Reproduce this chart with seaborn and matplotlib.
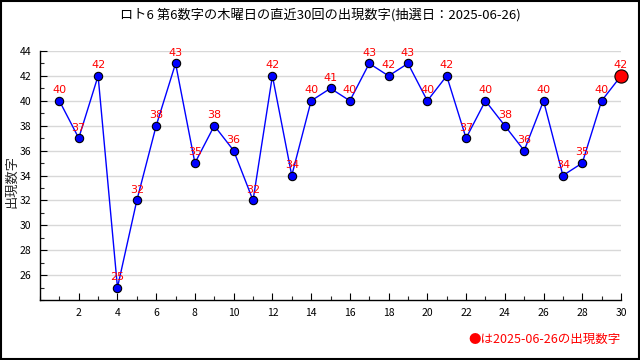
import matplotlib
matplotlib.use("Agg")
import matplotlib.pyplot as plt
import seaborn as sns
import pandas as pd
from matplotlib.ticker import MultipleLocator
from matplotlib.patches import Rectangle

draws = list(range(1, 31))
values = [40, 37, 42, 25, 32, 38, 43, 35, 38, 36, 32, 42, 34, 40, 41, 40, 43, 42, 43, 40,
          42, 37, 40, 38, 36, 40, 34, 35, 40, 42]
title = "ロト6 第6数字の木曜日の直近30回の出現数字(抽選日：2025-06-26)"
ylabel = "出現数字"
legend_text = "●は2025-06-26の出現数字"

sns.set_style("white")
plt.rcParams['font.family'] = ['Noto Sans CJK JP', 'DejaVu Sans']

df = pd.DataFrame({"draw": draws, "value": values})

fig = plt.figure(figsize=(6.4, 3.6), dpi=100)
ax = fig.add_axes([40/640, 1-300/360, (621-40)/640, (300-51)/360])

ax.set_xlim(0, 30)
ax.set_ylim(24, 44)
ax.yaxis.set_major_locator(MultipleLocator(2))
ax.yaxis.set_minor_locator(MultipleLocator(1))
ax.xaxis.set_major_locator(MultipleLocator(2))
ax.xaxis.set_minor_locator(MultipleLocator(1))
ax.grid(axis='y', which='major', color='#d8d8d8', linewidth=1)
ax.set_axisbelow(True)

sns.lineplot(data=df, x="draw", y="value", ax=ax, color='blue', linewidth=1,
             marker='o', markersize=6, markerfacecolor='blue', markeredgecolor='black',
             markeredgewidth=0.8, zorder=3, clip_on=False)
last = df.iloc[[-1]]
sns.scatterplot(data=last, x="draw", y="value", ax=ax, color='red', s=90,
                edgecolor='black', linewidth=0.8, zorder=4, clip_on=False)

for x, y in zip(draws, values):
    ax.annotate(str(y), (x, y), xytext=(0, 4), textcoords='offset points',
                ha='center', va='bottom', color='red', fontsize=8, family=['DejaVu Sans'])

for s in ['top', 'right']:
    ax.spines[s].set_visible(False)
for s in ['left', 'bottom']:
    ax.spines[s].set_color('black')
    ax.spines[s].set_linewidth(1)

ax.tick_params(axis='both', which='major', direction='in', length=5, width=0.8,
               labelsize=7.5, colors='black', left=True, bottom=True, pad=6)
ax.tick_params(axis='both', which='minor', direction='in', length=3, width=0.8,
               left=True, bottom=True)
ax.set_xticks([2, 4, 6, 8, 10, 12, 14, 16, 18, 20, 22, 24, 26, 28, 30])
ax.set_yticks([26, 28, 30, 32, 34, 36, 38, 40, 42, 44])
ax.set_xlabel("")
ax.set_ylabel("")
fig.text(12/640, 1-182/360, ylabel, rotation=90, ha='center', va='center', fontsize=9.5)

fig.text(0.5, 1-15/360, title, ha='center', va='center', fontsize=9.5, color='black')
fig.text(621/640, 1-339/360, legend_text, ha='right', va='center', fontsize=9, color='red')

fig.add_artist(Rectangle((0.001, 0.002), 0.997, 0.995, transform=fig.transFigure,
                         fill=False, edgecolor='black', linewidth=1.5))

fig.savefig("out.png", dpi=100)
